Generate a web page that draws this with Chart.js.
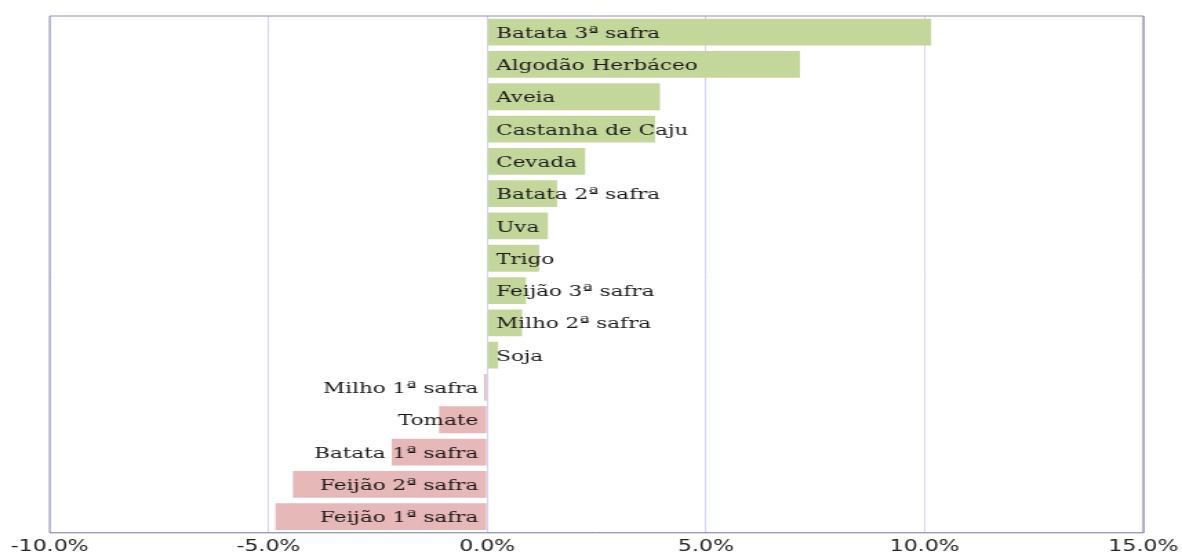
<!DOCTYPE html>
<html>
<head>
<meta charset="utf-8">
<script src="https://cdn.jsdelivr.net/npm/chart.js@4"></script>
<style>
  html, body { margin: 0; padding: 0; background: #fff; overflow: hidden; }
  #chart { display: block; }
</style>
</head>
<body>
<!-- the original picture is stretched sideways, so the canvas is drawn narrow and widened by CSS -->
<canvas id="chart" width="857" height="560" style="width:1182px;height:560px"></canvas>
<script>
const culturas = [
    'Batata 3ª safra', 'Algodão Herbáceo', 'Aveia', 'Castanha de Caju', 'Cevada',
    'Batata 2ª safra', 'Uva', 'Trigo', 'Feijão 3ª safra', 'Milho 2ª safra', 'Soja',
    'Milho 1ª safra', 'Tomate', 'Batata 1ª safra', 'Feijão 2ª safra', 'Feijão 1ª safra'
];
const variacao = [
    10.15, 7.15, 3.95, 3.84, 2.24,
    1.60, 1.39, 1.19, 0.89, 0.80, 0.25,
    -0.07, -1.10, -2.18, -4.44, -4.84
];
const ticksX = [-10, -5, 0, 5, 10, 15];

const verde = '#c4d79b';
const rosa = '#e6b8b7';

const rotulos = {
    id: 'rotulos',
    afterDatasetsDraw(chart) {
        const ctx = chart.ctx;
        const x = chart.scales.x;
        const zero = x.getPixelForValue(0);
        const meta = chart.getDatasetMeta(0);
        ctx.save();
        ctx.font = '15.6px "DejaVu Serif"';
        ctx.fillStyle = '#1a1a1a';
        ctx.textBaseline = 'middle';
        meta.data.forEach((bar, i) => {
            const v = variacao[i];
            if (v >= 0) {
                ctx.textAlign = 'left';
                ctx.fillText(culturas[i], zero + 6.5, bar.y + 1.5);
            } else {
                ctx.textAlign = 'right';
                ctx.fillText(culturas[i], zero - 6.5, bar.y + 1.5);
            }
        });
        ctx.restore();
    }
};

const moldura = {
    id: 'moldura',
    afterDraw(chart) {
        const a = chart.chartArea;
        const ctx = chart.ctx;
        ctx.save();
        ctx.lineWidth = 1;
        ctx.strokeStyle = '#9090b0';
        ctx.beginPath();
        ctx.moveTo(a.left, a.bottom);
        ctx.lineTo(a.left, a.top);
        ctx.lineTo(a.right, a.top);
        ctx.stroke();
        ctx.strokeStyle = '#76769a';
        ctx.beginPath();
        ctx.moveTo(a.right, a.top);
        ctx.lineTo(a.right, a.bottom);
        ctx.lineTo(a.left, a.bottom);
        ctx.stroke();
        ctx.restore();
    }
};

const canvas = document.getElementById('chart');
new Chart(canvas, {
    type: 'bar',
    data: {
        labels: culturas,
        datasets: [{
            data: variacao,
            backgroundColor: variacao.map(v => v >= 0 ? verde : rosa),
            borderWidth: 0,
            barPercentage: 0.83,
            categoryPercentage: 1
        }]
    },
    options: {
        indexAxis: 'y',
        responsive: false,
        animation: false,
        devicePixelRatio: 1,
        layout: { padding: { top: 16, left: 36, right: 28, bottom: 0 } },
        plugins: {
            legend: { display: false },
            tooltip: { enabled: false }
        },
        scales: {
            x: {
                min: -10,
                max: 15,
                afterBuildTicks(scale) {
                    scale.ticks = ticksX.map(v => ({ value: v }));
                },
                afterFit(scale) {
                    scale.paddingLeft = 0;
                    scale.paddingRight = 0;
                },
                grid: { color: '#d2d2ff', drawTicks: false },
                border: { display: false },
                ticks: {
                    padding: 4,
                    color: '#222',
                    font: { family: '"DejaVu Sans"', size: 16, lineHeight: 1.2 },
                    callback: v => v.toFixed(1) + '%'
                }
            },
            y: {
                display: false
            }
        }
    },
    plugins: [rotulos, moldura]
});
canvas.style.width = '1182px';
canvas.style.height = '560px';
</script>
</body>
</html>
